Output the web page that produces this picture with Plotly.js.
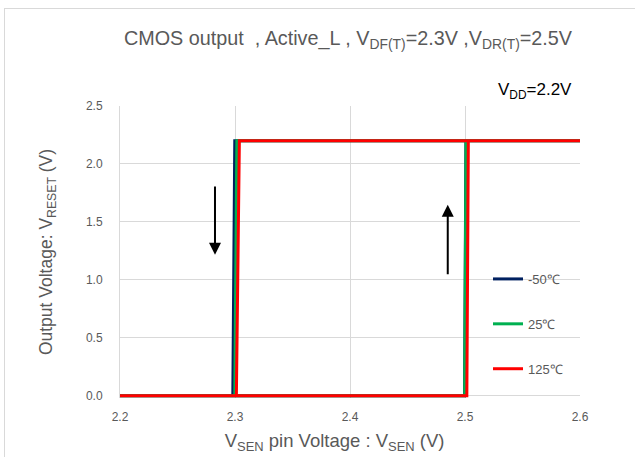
<!DOCTYPE html>
<html>
<head>
<meta charset="utf-8">
<script src="https://cdn.plot.ly/plotly-3.0.1.min.js"></script>
<style>
html,body{margin:0;padding:0;background:#fff;overflow:hidden;}
#frame{position:absolute;left:4px;top:8px;width:700px;height:500px;border:1px solid #d9d9d9;box-sizing:border-box;}
#chart{position:absolute;left:0;top:0;width:635px;height:457px;}
</style>
</head>
<body>
<div id="frame"></div>
<div id="chart"></div>
<script>
// Temperature series
const seriesNames = ['-50\u2103', '25\u2103', '125\u2103'];
const seriesColors = ['#002060', '#00B050', '#FF0000'];
// Falling threshold (detect) x at top (2.2V) and bottom (0V) of transition
const vdfTop = [2.2998, 2.3016, 2.3038];
const vdfBottom = [2.2981, 2.2998, 2.3012];
// Rising threshold (release) x at bottom and top of transition
const vdrBottom = [2.4996, 2.4997, 2.5016];
const vdrTop = [2.5008, 2.5009, 2.5029];
const vOutHigh = 2.2;
const vOutLow = 0;
const sweepMin = 2.2;
const sweepMax = 2.6;
const xTicks = [2.2, 2.3, 2.4, 2.5, 2.6];
const yTicks = [0, 0.5, 1.0, 1.5, 2.0, 2.5];

const traces = seriesNames.map((name, i) => ({
  type: 'scatter',
  mode: 'lines',
  name: name,
  legendgroup: 'g' + i,
  x: [sweepMin, vdrBottom[i], vdrTop[i], sweepMax, vdfTop[i], vdfBottom[i], sweepMin],
  y: [vOutLow, vOutLow, vOutHigh, vOutHigh, vOutHigh, vOutLow, vOutLow],
  line: {color: seriesColors[i], width: 3},
  hoverinfo: 'x+y'
}));

const grey = '#595959';
const pad = '&nbsp;'.repeat(6);
const layout = {
  width: 635, height: 457,
  paper_bgcolor: 'rgba(0,0,0,0)',
  plot_bgcolor: 'rgba(0,0,0,0)',
  margin: {l: 120, r: 55, t: 106, b: 59},
  font: {family: 'Liberation Sans, Arial, sans-serif', color: grey},
  title: {
    text: 'CMOS output  , Active_L , V<sub>DF(T)</sub>=2.3V ,V<sub>DR(T)</sub>=2.5V',
    font: {size: 19.8, color: grey},
    x: 0.548, xanchor: 'center', y: 0.917, yanchor: 'middle'
  },
  xaxis: {
    range: [sweepMin, sweepMax],
    tickvals: xTicks,
    ticktext: xTicks.map(v => v.toFixed(1)),
    showgrid: true, gridcolor: '#d9d9d9', gridwidth: 1,
    zeroline: false, showline: false, ticks: '',
    tickfont: {size: 12, color: grey},
    ticklabelstandoff: 10,
    title: {text: 'V<sub>SEN</sub> pin Voltage : V<sub>SEN</sub> (V)' + pad, font: {size: 18.5, color: grey}, standoff: 11},
    fixedrange: true
  },
  yaxis: {
    range: [-0.02, 2.5],
    tickvals: yTicks,
    ticktext: yTicks.map(v => v.toFixed(1)),
    showgrid: true, gridcolor: '#d9d9d9', gridwidth: 1,
    zeroline: false, showline: true, linecolor: '#d9d9d9', linewidth: 1, ticks: '',
    tickfont: {size: 12, color: grey},
    ticklabelstandoff: 14,
    title: {text: 'Output Voltage: V<sub>RESET</sub> (V)', font: {size: 17.5, color: grey}, standoff: 28},
    fixedrange: true
  },
  showlegend: true,
  legend: {
    x: 0.80, xanchor: 'left', y: 0.459, yanchor: 'top',
    bgcolor: 'rgba(255,255,255,0)',
    font: {size: 13, color: grey},
    traceorder: 'grouped',
    tracegroupgap: 25,
    itemwidth: 30
  },
  annotations: [
    {xref: 'paper', yref: 'paper', x: 0.987, y: 1.051, xanchor: 'right', yanchor: 'middle',
     text: 'V<sub>DD</sub>=2.2V', showarrow: false, font: {size: 17, color: '#000'}},
    {x: 2.2826, y: 1.216, ax: 2.2826, ay: 1.819, axref: 'x', ayref: 'y', xref: 'x', yref: 'y',
     text: '', showarrow: true, arrowhead: 2, arrowsize: 1.2, arrowwidth: 2, arrowcolor: '#000'},
    {x: 2.485, y: 1.647, ax: 2.485, ay: 1.034, axref: 'x', ayref: 'y', xref: 'x', yref: 'y',
     text: '', showarrow: true, arrowhead: 2, arrowsize: 1.2, arrowwidth: 2, arrowcolor: '#000'}
  ]
};

Plotly.newPlot('chart', traces, layout, {displayModeBar: false, staticPlot: true});
</script>
</body>
</html>
